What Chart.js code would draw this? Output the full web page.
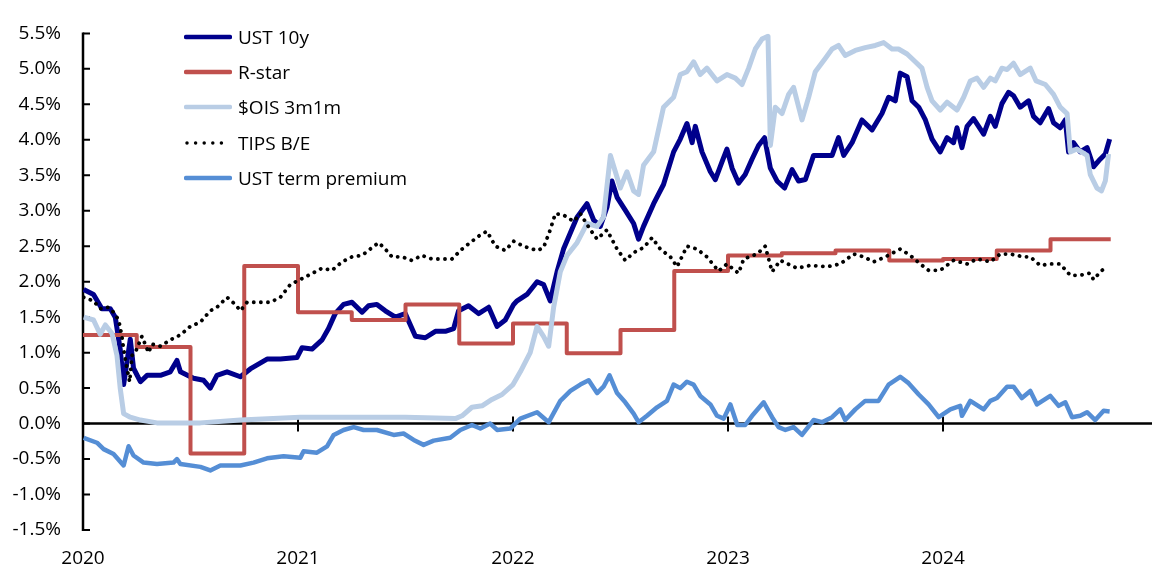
<!DOCTYPE html>
<html><head><meta charset="utf-8">
<script src="https://cdn.jsdelivr.net/npm/chart.js@4.4.1/dist/chart.umd.min.js"></script>
<style>
html,body{margin:0;padding:0;background:#fff;}
#wrap{position:relative;width:1152px;height:570px;}
#legend{position:absolute;left:184px;top:19px;font-family:'Open Sans',sans-serif;font-size:19px;color:#000;}
.row{display:flex;align-items:center;height:35.3px;white-space:nowrap;}
.row svg{margin-right:6px;}
</style></head><body>
<div id="wrap"><canvas id="c" width="1152" height="570"></canvas><div id="legend"></div></div>
<script>
const yearTicks = [2020, 2021, 2022, 2023, 2024];

const ust10yDates = [2020.003,2020.049,2020.088,2020.127,2020.150,2020.173,2020.189,2020.220,2020.235,2020.267,2020.298,2020.360,2020.406,2020.437,2020.453,2020.514,2020.561,2020.592,2020.623,2020.670,2020.732,2020.778,2020.856,2020.918,2020.995,
2021.019,2021.065,2021.112,2021.142,2021.173,2021.212,2021.251,2021.298,2021.328,2021.367,2021.406,2021.453,2021.499,2021.546,2021.592,2021.639,2021.685,2021.724,2021.747,2021.793,2021.840,2021.887,2021.926,2021.964,
2022.003,2022.019,2022.065,2022.112,2022.142,2022.173,2022.205,2022.235,2022.267,2022.298,2022.344,2022.375,2022.406,2022.437,2022.460,2022.484,2022.522,2022.561,2022.584,2022.607,2022.654,2022.700,2022.747,2022.778,2022.809,2022.833,2022.848,2022.879,2022.918,2022.941,2022.972,2022.995,
2023.019,2023.049,2023.080,2023.112,2023.142,2023.170,2023.197,2023.228,2023.263,2023.298,2023.328,2023.360,2023.398,2023.437,2023.484,2023.514,2023.538,2023.577,2023.623,2023.670,2023.716,2023.747,2023.778,2023.801,2023.833,2023.856,2023.887,2023.918,2023.949,2023.987,
2024.019,2024.049,2024.065,2024.088,2024.112,2024.142,2024.189,2024.220,2024.243,2024.274,2024.305,2024.328,2024.359,2024.398,2024.421,2024.452,2024.491,2024.514,2024.545,2024.569,2024.584,2024.607,2024.638,2024.670,2024.700,2024.732,2024.755,2024.775];
const ust10yValues = [1.89,1.82,1.62,1.62,1.50,1.05,0.55,1.19,0.78,0.59,0.68,0.68,0.73,0.89,0.73,0.64,0.61,0.50,0.68,0.73,0.66,0.77,0.91,0.91,0.93,
1.07,1.05,1.18,1.34,1.55,1.68,1.71,1.57,1.66,1.68,1.59,1.50,1.55,1.23,1.21,1.30,1.30,1.34,1.59,1.66,1.55,1.64,1.37,1.46,
1.68,1.73,1.82,2.00,1.96,1.73,2.14,2.46,2.69,2.91,3.10,2.87,2.78,3.05,3.42,3.19,3.01,2.82,2.60,2.78,3.10,3.37,3.83,4.01,4.23,3.96,4.19,3.83,3.55,3.44,3.69,3.87,
3.60,3.39,3.51,3.73,3.92,4.03,3.60,3.42,3.32,3.58,3.42,3.44,3.78,3.78,3.78,4.03,3.78,3.96,4.28,4.14,4.37,4.60,4.55,4.94,4.89,4.55,4.46,4.28,4.01,3.83,
4.03,3.96,4.17,3.89,4.19,4.30,4.08,4.33,4.19,4.51,4.67,4.62,4.46,4.55,4.33,4.24,4.44,4.24,4.17,4.28,3.83,3.96,3.83,3.89,3.62,3.73,3.80,4.01];

const rstarDates = [2020.00,2020.25,2020.50,2020.75,2021.00,2021.25,2021.50,2021.75,2022.00,2022.25,2022.50,2022.75,2023.00,2023.25,2023.50,2023.75,2024.00,2024.25,2024.50,2024.78];
const rstarValues = [1.25,1.08,-0.42,2.22,1.57,1.46,1.68,1.13,1.41,0.99,1.32,2.15,2.37,2.40,2.44,2.30,2.32,2.44,2.60,2.60];

const oisDates = [2020.003,2020.049,2020.080,2020.104,2020.135,2020.158,2020.173,2020.189,2020.220,2020.267,2020.344,2020.546,2020.732,
2021.011,2021.298,2021.499,2021.732,2021.763,2021.809,2021.856,2021.902,2021.949,
2022.000,2022.034,2022.080,2022.112,2022.142,2022.166,2022.189,2022.220,2022.251,2022.298,2022.344,2022.391,2022.421,2022.453,2022.476,2022.499,2022.530,2022.561,2022.584,2022.607,2022.654,2022.700,2022.747,2022.778,2022.809,2022.840,2022.871,2022.902,2022.949,2022.995,
2023.034,2023.065,2023.096,2023.127,2023.158,2023.186,2023.197,2023.220,2023.251,2023.282,2023.305,2023.344,2023.375,2023.406,2023.453,2023.484,2023.514,2023.545,2023.592,2023.638,2023.685,2023.724,2023.763,2023.793,2023.833,2023.871,2023.902,2023.926,2023.949,2023.987,
2024.019,2024.065,2024.096,2024.127,2024.158,2024.189,2024.220,2024.243,2024.274,2024.298,2024.328,2024.359,2024.406,2024.433,2024.476,2024.514,2024.545,2024.577,2024.592,2024.623,2024.670,2024.685,2024.716,2024.737,2024.755,2024.770];
const oisValues = [1.50,1.46,1.26,1.39,1.27,0.96,0.50,0.14,0.09,0.05,0.01,0.01,0.05,
0.09,0.09,0.09,0.07,0.11,0.23,0.25,0.34,0.41,
0.55,0.73,1.00,1.37,1.23,1.09,1.64,2.14,2.37,2.55,2.82,2.78,2.91,3.78,3.55,3.32,3.55,3.28,3.23,3.64,3.83,4.46,4.60,4.92,4.96,5.10,4.92,5.01,4.83,4.92,
4.87,4.78,5.01,5.28,5.42,5.46,3.92,4.46,4.37,4.64,4.74,4.28,4.60,4.96,5.15,5.28,5.33,5.19,5.26,5.30,5.33,5.37,5.28,5.28,5.21,5.10,5.01,4.74,4.55,4.42,
4.53,4.42,4.60,4.83,4.87,4.74,4.87,4.83,5.01,4.99,5.08,4.92,5.01,4.83,4.78,4.64,4.46,4.37,3.83,3.87,3.78,3.51,3.32,3.28,3.42,3.80];

const tipsDates = [2020.003,2020.049,2020.080,2020.119,2020.142,2020.166,2020.181,2020.189,2020.205,2020.217,2020.228,2020.243,2020.274,2020.305,2020.321,2020.360,2020.406,2020.453,2020.499,2020.546,2020.592,2020.623,2020.670,2020.708,2020.732,2020.763,2020.825,2020.871,2020.918,2020.964,
2021.003,2021.049,2021.112,2021.158,2021.205,2021.251,2021.298,2021.344,2021.375,2021.406,2021.437,2021.484,2021.530,2021.577,2021.623,2021.670,2021.716,2021.763,2021.809,2021.848,2021.879,2021.918,2021.964,
2022.003,2022.049,2022.112,2022.142,2022.173,2022.197,2022.235,2022.282,2022.313,2022.360,2022.391,2022.437,2022.484,2022.522,2022.561,2022.607,2022.647,2022.685,2022.732,2022.763,2022.809,2022.856,2022.902,2022.956,2022.995,
2023.049,2023.073,2023.135,2023.173,2023.205,2023.243,2023.321,2023.383,2023.460,2023.522,2023.584,2023.631,2023.677,2023.732,2023.801,2023.848,2023.894,2023.933,2023.987,
2024.049,2024.112,2024.158,2024.220,2024.266,2024.313,2024.375,2024.406,2024.452,2024.499,2024.545,2024.592,2024.638,2024.684,2024.700,2024.732,2024.763];
const tipsValues = [1.78,1.73,1.62,1.64,1.57,1.46,1.23,1.05,0.77,0.59,0.96,1.00,1.23,1.00,1.12,1.09,1.18,1.25,1.37,1.43,1.59,1.64,1.78,1.68,1.59,1.71,1.71,1.71,1.78,1.96,
2.02,2.09,2.19,2.16,2.28,2.35,2.37,2.48,2.55,2.46,2.35,2.35,2.30,2.37,2.32,2.32,2.32,2.46,2.57,2.66,2.71,2.50,2.44,
2.57,2.50,2.44,2.48,2.73,2.96,2.94,2.85,2.96,2.73,2.60,2.73,2.46,2.30,2.41,2.48,2.62,2.46,2.35,2.21,2.50,2.46,2.35,2.15,2.25,
2.12,2.32,2.39,2.50,2.14,2.30,2.19,2.23,2.21,2.25,2.39,2.35,2.28,2.35,2.46,2.37,2.25,2.16,2.16,
2.30,2.25,2.32,2.28,2.39,2.39,2.35,2.35,2.23,2.25,2.25,2.09,2.09,2.12,2.03,2.14,2.22];

const termPremDates = [2020.003,2020.065,2020.096,2020.142,2020.189,2020.212,2020.235,2020.282,2020.344,2020.421,2020.437,2020.453,2020.546,2020.592,2020.639,2020.732,2020.793,2020.856,2020.933,
2021.011,2021.026,2021.088,2021.135,2021.166,2021.212,2021.259,2021.305,2021.367,2021.445,2021.491,2021.538,2021.584,2021.631,2021.708,2021.755,2021.809,2021.848,2021.894,2021.926,2021.987,
2022.034,2022.112,2022.166,2022.220,2022.267,2022.313,2022.352,2022.391,2022.421,2022.449,2022.484,2022.522,2022.561,2022.584,2022.623,2022.670,2022.716,2022.747,2022.778,2022.809,2022.840,2022.871,2022.918,2022.949,2022.980,
2023.011,2023.043,2023.080,2023.112,2023.166,2023.205,2023.235,2023.267,2023.305,2023.344,2023.398,2023.437,2023.484,2023.522,2023.545,2023.592,2023.638,2023.700,2023.747,2023.801,2023.840,2023.887,2023.933,2023.980,
2024.034,2024.080,2024.088,2024.127,2024.189,2024.220,2024.251,2024.298,2024.328,2024.367,2024.406,2024.437,2024.499,2024.538,2024.569,2024.600,2024.638,2024.670,2024.708,2024.747,2024.775];
const termPremValues = [-0.20,-0.27,-0.36,-0.43,-0.59,-0.32,-0.45,-0.55,-0.57,-0.55,-0.50,-0.57,-0.61,-0.66,-0.59,-0.59,-0.55,-0.49,-0.46,
-0.48,-0.39,-0.41,-0.32,-0.16,-0.09,-0.05,-0.09,-0.09,-0.16,-0.14,-0.23,-0.30,-0.24,-0.20,-0.09,-0.02,-0.07,0.00,-0.09,-0.07,
0.07,0.16,0.02,0.32,0.46,0.55,0.61,0.43,0.52,0.68,0.43,0.30,0.14,0.02,0.11,0.23,0.32,0.55,0.50,0.59,0.55,0.39,0.27,0.11,0.07,
0.27,-0.02,-0.02,0.11,0.30,0.09,-0.05,-0.09,-0.05,-0.16,0.05,0.02,0.09,0.20,0.05,0.20,0.32,0.32,0.55,0.66,0.57,0.41,0.27,0.09,
0.20,0.25,0.11,0.32,0.20,0.32,0.36,0.52,0.52,0.36,0.46,0.27,0.39,0.25,0.30,0.09,0.11,0.16,0.05,0.18,0.17];

const seriesNames = ['UST 10y', 'R-star', '$OIS 3m1m', 'TIPS B/E', 'UST term premium'];
const seriesColors = ['#00008C', '#C0504D', '#B9CDE5', '#000000', '#558ED5'];

const zip = (xs, ys) => xs.map((x, i) => ({x, y: ys[i]}));
const FONT = "'Open Sans', sans-serif";

const datasets = [
  {label: seriesNames[0], data: zip(ust10yDates, ust10yValues), borderColor: seriesColors[0], borderWidth: 5, order: 5},
  {label: seriesNames[1], data: zip(rstarDates, rstarValues), borderColor: seriesColors[1], borderWidth: 4, stepped: 'before', order: 4},
  {label: seriesNames[2], data: zip(oisDates, oisValues), borderColor: seriesColors[2], borderWidth: 5, order: 3},
  {label: seriesNames[3], data: zip(tipsDates, tipsValues), borderColor: seriesColors[3], borderWidth: 3.8, borderDash: [0.1, 7], borderCapStyle: 'round', order: 2},
  {label: seriesNames[4], data: zip(termPremDates, termPremValues), borderColor: seriesColors[4], borderWidth: 4.5, order: 1}
].map(d => Object.assign({pointRadius: 0, tension: 0, fill: false, borderJoinStyle: 'round'}, d));

const axisDecor = {
  id: 'axisDecor',
  beforeDatasetsDraw(chart) {
    const {ctx, chartArea: a, scales: {x, y}} = chart;
    const y0 = y.getPixelForValue(0);
    ctx.save();
    ctx.strokeStyle = '#000';
    ctx.lineWidth = 2.5;
    ctx.beginPath();
    ctx.moveTo(a.left, y0); ctx.lineTo(a.right, y0);
    ctx.moveTo(a.left, a.top - 1); ctx.lineTo(a.left, a.bottom + 1);
    ctx.stroke();
    ctx.lineWidth = 2;
    ctx.beginPath();
    y.ticks.forEach(t => { const py = y.getPixelForValue(t.value); ctx.moveTo(a.left, py); ctx.lineTo(a.left + 7, py); });
    x.ticks.forEach(t => { const px = x.getPixelForValue(t.value); if (px > a.left + 2) { ctx.moveTo(px, y0 - 7); ctx.lineTo(px, y0 + 8); } });
    ctx.stroke();
    ctx.restore();
  }
};

new Chart(document.getElementById('c'), {
  type: 'line',
  data: {datasets},
  plugins: [axisDecor],
  options: {
    responsive: false,
    animation: false,
    devicePixelRatio: 1,
    layout: {padding: {top: 17, right: 0, bottom: 0, left: 0}},
    plugins: {legend: {display: false}, tooltip: {enabled: false}},
    scales: {
      x: {
        type: 'linear', min: 2020, max: 2024.972,
        afterBuildTicks: s => { s.ticks = yearTicks.map(v => ({value: v})); },
        afterFit: s => { s.height = 40; },
        grid: {display: false, drawTicks: false},
        border: {display: false},
        ticks: {padding: 17, color: '#000', font: {family: FONT, size: 19}, maxRotation: 0, autoSkip: false, callback: v => String(v)}
      },
      y: {
        min: -1.5, max: 5.5,
        afterFit: s => { s.width = 83; },
        grid: {display: false, drawTicks: false},
        border: {display: false},
        ticks: {stepSize: 0.5, padding: 22, color: '#000', font: {family: FONT, size: 19}, callback: v => v.toFixed(1) + '%'}
      }
    }
  }
});

// legend
const leg = document.getElementById('legend');
seriesNames.forEach((name, i) => {
  const row = document.createElement('div');
  row.className = 'row';
  const dotted = i === 3;
  const line = dotted
    ? `<line x1="3" y1="5" x2="46" y2="5" stroke="#000" stroke-width="3.5" stroke-linecap="round" stroke-dasharray="0 8.6"/>`
    : `<line x1="2" y1="5" x2="46" y2="5" stroke="${seriesColors[i]}" stroke-width="4.5" stroke-linecap="round"/>`;
  row.innerHTML = `<svg width="48" height="10">${line}</svg><span>${name}</span>`;
  leg.appendChild(row);
});
</script>
</body></html>
